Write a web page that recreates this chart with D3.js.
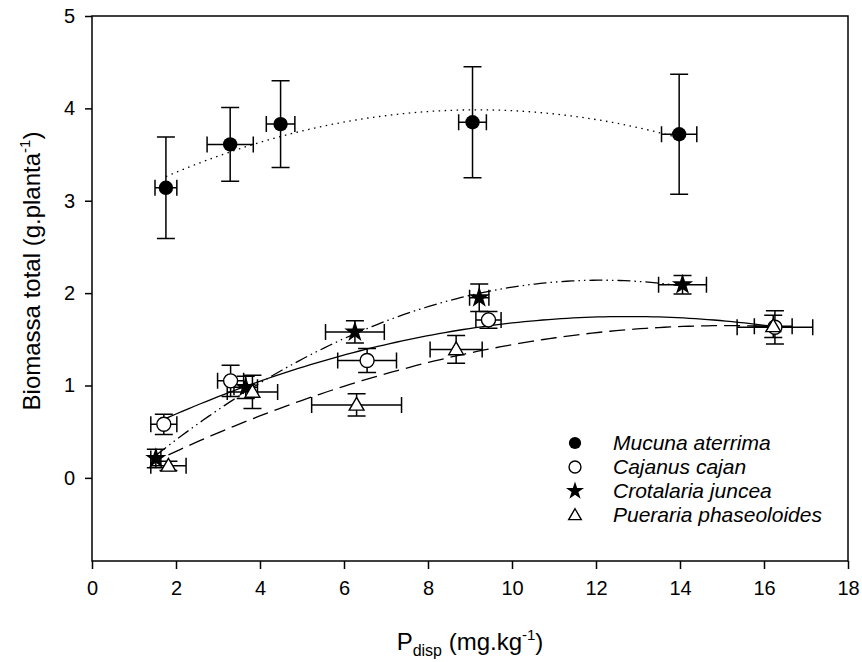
<!DOCTYPE html>
<html>
<head>
<meta charset="utf-8">
<script src="https://cdn.jsdelivr.net/npm/d3@7"></script>
<style>
  body { margin: 0; background: #fff; }
  svg { font-family: "Liberation Sans", Arial, sans-serif; }
</style>
</head>
<body>
<script>
// values
var species = ["Mucuna aterrima", "Cajanus cajan", "Crotalaria juncea", "Pueraria phaseoloides"];

var mucunaP    = [1.76, 3.29, 4.49, 9.06, 13.98];
var mucunaB    = [3.14, 3.61, 3.83, 3.85, 3.72];
var mucunaPErr = [0.26, 0.55, 0.34, 0.33, 0.42];
var mucunaBErr = [0.55, 0.40, 0.47, 0.60, 0.65];

var cajanusP    = [1.71, 3.30, 6.55, 9.44, 16.26];
var cajanusB    = [0.58, 1.05, 1.27, 1.71, 1.63];
var cajanusPErr = [0.31, 0.31, 0.70, 0.30, 0.90];
var cajanusBErr = [0.11, 0.17, 0.13, 0.09, 0.18];

var crotalariaP    = [1.52, 3.66, 6.26, 9.22, 14.06];
var crotalariaB    = [0.21, 0.98, 1.58, 1.95, 2.09];
var crotalariaPErr = [0.12, 0.28, 0.70, 0.23, 0.57];
var crotalariaBErr = [0.10, 0.12, 0.12, 0.15, 0.10];

var puerariaP    = [1.82, 3.82, 6.30, 8.67, 16.22];
var puerariaB    = [0.13, 0.93, 0.79, 1.39, 1.64];
var puerariaPErr = [0.42, 0.60, 1.07, 0.62, 0.45];
var puerariaBErr = [0.05, 0.18, 0.12, 0.15, 0.12];

var xTicks = [0, 2, 4, 6, 8, 10, 12, 14, 16, 18];
var yTicks = [0, 1, 2, 3, 4, 5];

!(function (d3) {

// set the dimensions of the graph
var W = 862, H = 662;
var pLeft = 92, pRight = 848, pTop = 16, pBottom = 561;

var x = d3.scaleLinear().domain([0, 18]).range([pLeft, pRight]);
var y = d3.scaleLinear().domain([-0.9, 5]).range([pBottom, pTop]);

var svg = d3.select("body").append("svg")
    .attr("width", W)
    .attr("height", H);

function pack(px, py, pe, be) {
  return px.map(function(v, i) { return {x: v, y: py[i], xe: pe[i], ye: be[i]}; });
}

var series = [
  {name: species[0], pts: pack(mucunaP, mucunaB, mucunaPErr, mucunaBErr), sym: "fcircle", dash: "1.5,4.5"},
  {name: species[1], pts: pack(cajanusP, cajanusB, cajanusPErr, cajanusBErr), sym: "ocircle", dash: null},
  {name: species[2], pts: pack(crotalariaP, crotalariaB, crotalariaPErr, crotalariaBErr), sym: "star", dash: "13,4,1.5,4,1.5,4"},
  {name: species[3], pts: pack(puerariaP, puerariaB, puerariaPErr, puerariaBErr), sym: "triangle", dash: "16,7"}
];

// quadratic least squares fit  y = a + b x + c x^2
function quadFit(pts) {
  var s = [0, 0, 0, 0, 0], t = [0, 0, 0];
  pts.forEach(function(p) {
    var xp = 1;
    for (var k = 0; k < 5; k++) { s[k] += xp; if (k < 3) t[k] += xp * p.y; xp *= p.x; }
  });
  var m = [[s[0], s[1], s[2], t[0]], [s[1], s[2], s[3], t[1]], [s[2], s[3], s[4], t[2]]];
  for (var i = 0; i < 3; i++) {
    for (var j = i + 1; j < 3; j++) {
      var f = m[j][i] / m[i][i];
      for (var k2 = i; k2 < 4; k2++) m[j][k2] -= f * m[i][k2];
    }
  }
  var c = [0, 0, 0];
  for (var r = 2; r >= 0; r--) {
    var v = m[r][3];
    for (var q = r + 1; q < 3; q++) v -= m[r][q] * c[q];
    c[r] = v / m[r][r];
  }
  return function(xx) { return c[0] + c[1] * xx + c[2] * xx * xx; };
}

var line = d3.line()
    .x(function(d) { return x(d[0]); })
    .y(function(d) { return y(d[1]); });

// fitted curves
series.forEach(function(s) {
  var f = quadFit(s.pts);
  var ext = d3.extent(s.pts, function(d) { return d.x; });
  var curve = d3.range(0, 101).map(function(i) {
    var xx = ext[0] + (ext[1] - ext[0]) * i / 100;
    return [xx, f(xx)];
  });
  svg.append("path")
      .datum(curve)
      .attr("fill", "none")
      .attr("stroke", "#000")
      .attr("stroke-width", 1.3)
      .attr("stroke-dasharray", s.dash)
      .attr("d", line);
});

// error bars
var capY = 9, capX = 8;
series.forEach(function(s) {
  var g = svg.append("g").attr("stroke", "#000").attr("stroke-width", 1.5).attr("fill", "none");
  s.pts.forEach(function(d) {
    var cx = x(d.x), cy = y(d.y);
    var y0 = y(d.y - d.ye), y1 = y(d.y + d.ye);
    var x0 = x(d.x - d.xe), x1 = x(d.x + d.xe);
    g.append("path").attr("d",
      "M" + cx + "," + y0 + "V" + y1 +
      "M" + (cx - capY) + "," + y0 + "H" + (cx + capY) +
      "M" + (cx - capY) + "," + y1 + "H" + (cx + capY) +
      "M" + x0 + "," + cy + "H" + x1 +
      "M" + x0 + "," + (cy - capX) + "V" + (cy + capX) +
      "M" + x1 + "," + (cy - capX) + "V" + (cy + capX));
  });
});

function drawSymbol(g, sym, cx, cy, k) {
  k = k || 1;
  if (sym === "fcircle") {
    g.append("circle").attr("cx", cx).attr("cy", cy).attr("r", 7.2 * k).attr("fill", "#000");
  } else if (sym === "ocircle") {
    g.append("circle").attr("cx", cx).attr("cy", cy).attr("r", 7 * k)
        .attr("fill", "#fff").attr("stroke", "#000").attr("stroke-width", 1.4);
  } else if (sym === "star") {
    g.append("path").attr("transform", "translate(" + cx + "," + cy + ")")
        .attr("d", d3.symbol().type(d3.symbolStar).size(140 * k * k)()).attr("fill", "#000");
  } else {
    g.append("path").attr("transform", "translate(" + cx + "," + (cy + 1) + ")")
        .attr("d", d3.symbol().type(d3.symbolTriangle).size(95 * k * k)())
        .attr("fill", "#fff").attr("stroke", "#000").attr("stroke-width", 1.4);
  }
}

// markers
series.forEach(function(s) {
  var g = svg.append("g");
  s.pts.forEach(function(d) { drawSymbol(g, s.sym, x(d.x), y(d.y)); });
});

// frame
svg.append("rect")
    .attr("x", pLeft).attr("y", pTop)
    .attr("width", pRight - pLeft).attr("height", pBottom - pTop)
    .attr("fill", "none").attr("stroke", "#000").attr("stroke-width", 1.5);

// Add the X Axis
var xAxis = svg.append("g")
    .attr("transform", "translate(0," + pBottom + ")")
    .call(d3.axisBottom(x).tickValues(xTicks).tickSize(8).tickPadding(12).tickFormat(d3.format("d")));
xAxis.select(".domain").remove();
xAxis.selectAll("line").attr("stroke-width", 1.5);
xAxis.selectAll("text").attr("font-size", 20).attr("font-family", "Liberation Sans, Arial, sans-serif").attr("fill", "#000");

// Add the Y Axis
var yAxis = svg.append("g")
    .attr("transform", "translate(" + pLeft + ",0)")
    .call(d3.axisLeft(y).tickValues(yTicks).tickSize(7).tickPadding(10).tickFormat(d3.format("d")));
yAxis.select(".domain").remove();
yAxis.selectAll("line").attr("stroke-width", 1.5);
yAxis.selectAll("text").attr("font-size", 20).attr("font-family", "Liberation Sans, Arial, sans-serif").attr("fill", "#000");

// text label for the x axis
var xt = svg.append("text")
    .attr("x", (pLeft + pRight) / 2)
    .attr("y", 650)
    .attr("text-anchor", "middle")
    .attr("font-size", 24);
xt.append("tspan").text("P");
xt.append("tspan").attr("font-size", 16).attr("dy", 6).text("disp");
xt.append("tspan").attr("dy", -6).text(" (mg.kg");
xt.append("tspan").attr("font-size", 15).attr("dy", -10).text("-1");
xt.append("tspan").attr("dy", 10).text(")");

// text label for the y axis
var yt = svg.append("text")
    .attr("text-anchor", "middle")
    .attr("transform", "translate(40," + 271 + ")rotate(-90)")
    .attr("font-size", 24);
yt.append("tspan").text("Biomassa total (g.planta");
yt.append("tspan").attr("font-size", 15).attr("dy", -10).text("-1");
yt.append("tspan").attr("dy", 10).text(")");

// legend
var legY = [443, 467, 491, 515];
series.forEach(function(s, i) {
  var g = svg.append("g");
  drawSymbol(g, s.sym, 575, legY[i], 0.85);
  g.append("text")
      .attr("x", 613).attr("y", legY[i]).attr("dy", "0.35em")
      .attr("font-size", 21).attr("font-style", "italic")
      .text(s.name);
});

})(d3);
</script>
</body>
</html>
